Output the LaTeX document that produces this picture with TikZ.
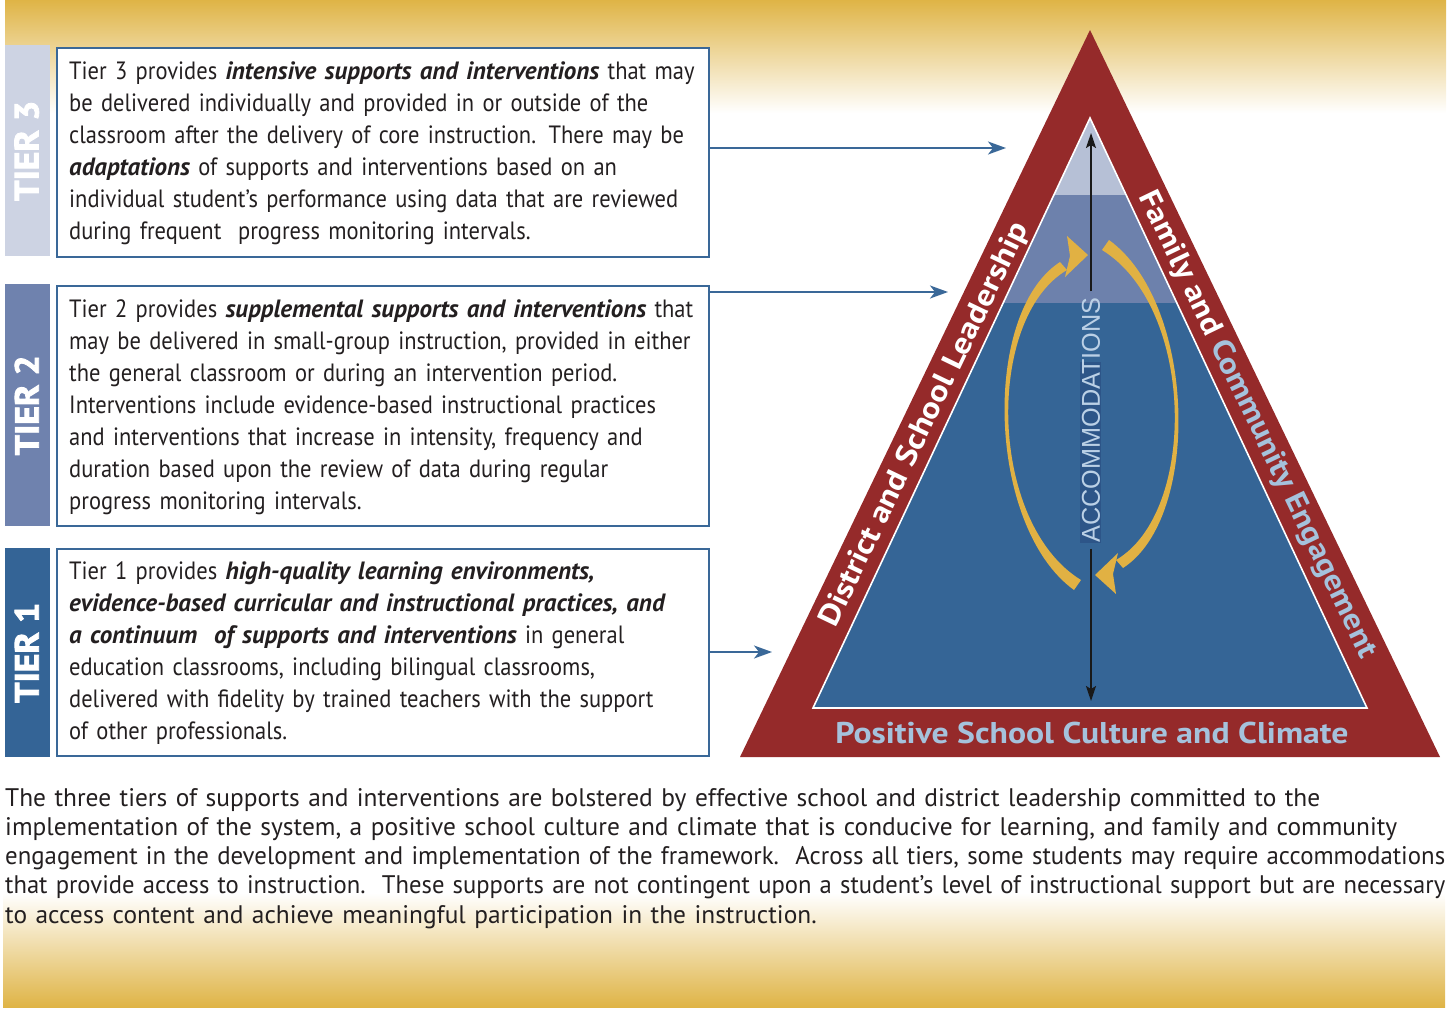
\documentclass[tikz,border=0pt]{standalone}
\usepackage{fontspec}
\usepackage{graphicx}
\setmainfont{PT Sans}
\newfontfamily\accfont{Liberation Sans}
\newfontfamily\bodyfont[FakeStretch=0.9, WordSpace=0.85]{PT Sans}
\newfontfamily\bifont[FakeStretch=1.0, WordSpace=0.85]{PT Sans}
\newfontfamily\heavyfont[BoldFeatures={FakeBold=2.5}]{PT Sans}
\newfontfamily\parafont{PT Sans}
\usetikzlibrary{arrows.meta,calc}
\definecolor{gold}{HTML}{DFB446}
\definecolor{tred}{HTML}{952A2A}
\definecolor{t3col}{HTML}{CDD3E3}
\definecolor{t2col}{HTML}{6F82AE}
\definecolor{t1col}{HTML}{346496}
\definecolor{band3}{HTML}{B6C0D6}
\definecolor{band2}{HTML}{6D81AC}
\definecolor{band1}{HTML}{356596}
\definecolor{accbg}{HTML}{2D5588}
\definecolor{edgeblue}{HTML}{3A6898}
\definecolor{arcgold}{HTML}{E1B143}
\definecolor{lblue}{HTML}{A5C2DC}
\definecolor{accol}{HTML}{BBD0E6}
\definecolor{txt}{HTML}{231F20}
\newcommand{\bxi}[1]{{\bifont\bfseries\itshape #1}}
\begin{document}
\begin{tikzpicture}[x=1pt,y=-1pt,
  tierbox/.style={draw=edgeblue, line width=2.2pt, fill=white, anchor=north west, inner sep=0pt, minimum width=652pt},
  tierstrip/.style={anchor=north west, inner sep=0pt, minimum width=45pt},
  bodytext/.style={anchor=base west, inner sep=0pt, text width=700pt, align=left, font=\bodyfont\fontsize{25}{32}\selectfont, text=txt},
  tierlabel/.style={rotate=90, inner sep=0pt, text=white, font=\heavyfont\fontsize{30}{30}\selectfont\bfseries},
  linkarrow/.style={draw=edgeblue, line width=2pt, -{Stealth[length=18pt,width=13pt,inset=5pt]}},
  blackarrow/.style={draw=black!90, line width=1.8pt, -{Stealth[length=15pt,width=10pt,inset=3pt]}},
  sidelabel/.style={inner sep=0pt, font=\fontsize{30}{30}\selectfont\bfseries}
]
\useasboundingbox (0,0) rectangle (1450,1010);
% background gradients
\shade[top color=gold, bottom color=white] (5,0) rectangle (1446,113);
\shade[top color=white, bottom color=gold] (3,893) rectangle (1445,1007);

% tier strips and boxes
\node[tierstrip, fill=t3col, minimum height=211pt] (s3) at (5,45) {};
\node[tierstrip, fill=t2col, minimum height=242pt] (s2) at (5,284) {};
\node[tierstrip, fill=t1col, minimum height=209pt] (s1) at (5,548) {};
\node[tierlabel] (l3) at ($(s3.center)+(-1,0)$) {\resizebox{100pt}{24pt}{TIER 3}};
\node[tierlabel] (l2) at ($(s2.center)+(-1,0)$) {\resizebox{100pt}{24pt}{TIER 2}};
\node[tierlabel] (l1) at ($(s1.center)+(-1,0)$) {\resizebox{100pt}{24pt}{TIER 1}};

\node[tierbox, minimum height=209pt] (b3) at (56,47) {};
\node[tierbox, minimum height=240pt] (b2) at (56,285) {};
\node[tierbox, minimum height=207pt] (b1) at (56,548) {};

\node[bodytext] (x3) at (69,79) {Tier 3 provides \bxi{intensive supports and interventions} that may\\
be delivered individually and provided in or outside of the\\
classroom after the delivery of core instruction. There may be\\
\bxi{adaptations} of supports and interventions based on an\\
individual student’s performance using data that are reviewed\\
during frequent\ \ progress monitoring intervals.};

\node[bodytext] (x2) at (69,317) {Tier 2 provides \bxi{supplemental supports and interventions} that\\
may be delivered in small-group instruction, provided in either\\
the general classroom or during an intervention period.\\
Interventions include evidence-based instructional practices\\
and interventions that increase in intensity, frequency and\\
duration based upon the review of data during regular\\
progress monitoring intervals.};

\node[bodytext] (x1) at (69,579) {Tier 1 provides \bxi{high-quality learning environments,}\\
\bxi{evidence-based curricular and instructional practices, and}\\
\bxi{a continuum\ \ of supports and interventions} in general\\
education classrooms, including bilingual classrooms,\\
delivered with fidelity by trained teachers with the support\\
of other professionals.};

% triangle
\fill[tred] (1090,30) -- (1440,757) -- (740,757) -- cycle;
\begin{scope}
  \clip (1090,118) -- (1367,708) -- (813,708) -- cycle;
  \fill[band1] (800,303) rectangle (1380,712);
  \fill[band2] (800,195) rectangle (1380,303);
  \fill[band3] (800,110) rectangle (1380,195);
\end{scope}
\draw[white, line width=1.6pt, line join=miter] (1090,118) -- (1367,708) -- (813,708) -- cycle;

% connectors from boxes
\coordinate (a3) at (1006,148);
\coordinate (a2) at (948,292);
\coordinate (a1) at (772,652);
\draw[linkarrow] (b3.east |- a3) -- (a3);
\draw[linkarrow] (b2.east |- a2) -- (a2);
\draw[linkarrow] (b1.east |- a1) -- (a1);

% gold crescents
\fill[arcgold] (1074,590) .. controls (987,527) and (981,313) .. (1060,262) -- (1067,270) .. controls (985,318) and (988,523) .. (1081,580) -- cycle;
\fill[arcgold] (1067,236) -- (1088,255) -- (1065,277) -- (1070,256) -- cycle;
\begin{scope}[rotate around={180:(1091.5,415)}]
\fill[arcgold] (1074,590) .. controls (987,527) and (981,313) .. (1060,262) -- (1067,270) .. controls (985,318) and (988,523) .. (1081,580) -- cycle;
\fill[arcgold] (1067,236) -- (1088,255) -- (1065,277) -- (1070,256) -- cycle;
\end{scope}

% accommodations
\fill[accbg] (1080,362) rectangle (1101,543);
\node[rotate=90, inner sep=6pt, text=accol] (acc) at (1091,420) {\resizebox{245pt}{18pt}{\accfont ACCOMMODATIONS}};
\coordinate (accTop) at (1091,133);
\coordinate (accBot) at (1091,701);
\draw[blackarrow] (acc.east) -- (accTop);
\draw[blackarrow] (acc.west) -- (accBot);

% side labels
\node[sidelabel, rotate=64.3, text=white] (lead) at (925,425) {\resizebox{445pt}{\height}{District and School Leadership}};
\node[sidelabel, rotate=-64.3] (fam) at (1257,425) {\resizebox{515pt}{\height}{\textcolor{white}{Family and} \textcolor{lblue}{Community Engagement}}};
\node[sidelabel, text=lblue] (pos) at (1092,733) {\resizebox{513pt}{\height}{Positive School Culture and Climate}};

% bottom paragraph
\node[anchor=base west, inner sep=0pt, text width=1440pt, align=left, text=txt, font=\parafont\fontsize{25.4}{29.3}\selectfont] (para) at (5,806) {%
\makebox[1440pt][s]{The three tiers of supports and interventions are bolstered by effective school and district leadership committed to the}\\
\makebox[1440pt][s]{implementation of the system, a positive school culture and climate that is conducive for learning, and family and community}\\
\resizebox{1440pt}{\height}{engagement in the development and implementation of the framework.\ \ Across all tiers, some students may require accommodations}\\
\resizebox{1440pt}{\height}{that provide access to instruction.\ \ These supports are not contingent upon a student’s level of instructional support but are necessary}\\
to access content and achieve meaningful participation in the instruction.};
\end{tikzpicture}
\end{document}
